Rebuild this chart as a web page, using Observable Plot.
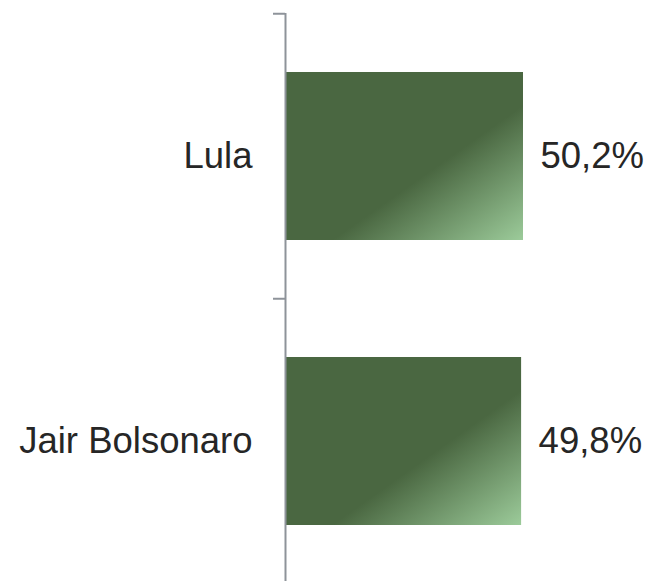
<!DOCTYPE html>
<html>
<head>
<meta charset="utf-8">
<script src="https://cdn.jsdelivr.net/npm/d3@7"></script>
<script src="https://cdn.jsdelivr.net/npm/@observablehq/plot@0.6"></script>
<style>
  html, body { margin: 0; padding: 0; background: #fff; }
  #chart svg { display: block; }
</style>
</head>
<body>
<div id="chart"></div>
<script>
const candidates = ["Lula", "Jair Bolsonaro"];
const shares = [50.2, 49.8];

const data = candidates.map((name, i) => ({name, value: shares[i]}));
const fmt = v => v.toFixed(1).replace(".", ",") + "%";

const defs = () => {
  const ns = "http://www.w3.org/2000/svg";
  const d = document.createElementNS(ns, "defs");
  const g = document.createElementNS(ns, "linearGradient");
  g.setAttribute("id", "barGrad");
  g.setAttribute("x1", "0"); g.setAttribute("y1", "0");
  g.setAttribute("x2", "1"); g.setAttribute("y2", "1");
  [[0, "#4a6741"], [0.6, "#4a6741"], [1, "#9ccb9a"]].forEach(([o, c]) => {
    const s = document.createElementNS(ns, "stop");
    s.setAttribute("offset", o);
    s.setAttribute("stop-color", c);
    g.appendChild(s);
  });
  d.appendChild(g);
  return d;
};

const chart = Plot.plot({
  width: 650,
  height: 581,
  marginTop: 13,
  marginBottom: 0,
  marginLeft: 285,
  marginRight: 0,
  style: {fontFamily: "'Liberation Sans', Arial, sans-serif", background: "#fff"},
  x: {domain: [0, 60], range: [285, 285 + 60 * 4.741], axis: null},
  y: {domain: candidates, range: [13, 584], paddingInner: 0.41, paddingOuter: 0.205, axis: null},
  marks: [
    defs,
    Plot.barX(data, {y: "name", x: "value", fill: "url(#barGrad)"}),
    Plot.ruleX([0], {stroke: "#8e939a", strokeWidth: 2}),
    Plot.ruleY(data, {y: "name", x1: 0, x2: 0, insetLeft: -12, dy: -142.75, stroke: "#8e939a", strokeWidth: 2}),
    Plot.text(data, {y: "name", x: 0, text: "name", dx: -33, textAnchor: "end", fontSize: 36.5, fill: "#262626"}),
    Plot.text(data, {y: "name", x: "value", text: d => fmt(d.value), dx: 17, textAnchor: "start", fontSize: 36.5, fill: "#262626"})
  ]
});
document.getElementById("chart").appendChild(chart);
</script>
</body>
</html>
